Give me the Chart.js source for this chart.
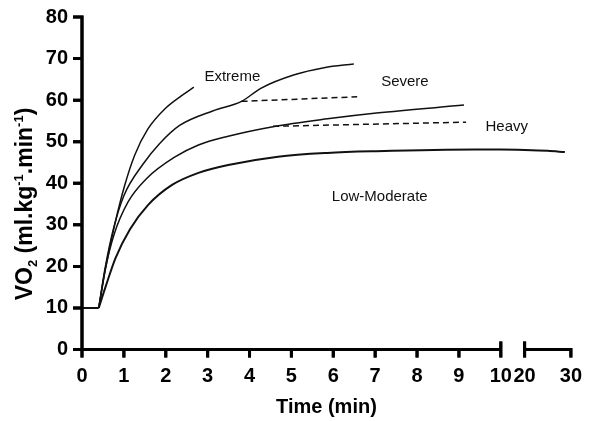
<!DOCTYPE html>
<html>
<head>
<meta charset="utf-8">
<script src="https://cdn.jsdelivr.net/npm/chart.js@4/dist/chart.umd.min.js"></script>
<style>
  html, body { margin: 0; padding: 0; background: #fff; }
  #wrap { width: 589px; height: 421px; position: relative; }
  #axisLayer { position: absolute; left: 0; top: 0; pointer-events: none; }
</style>
</head>
<body>
<div id="wrap"><canvas id="vo2Chart"></canvas><canvas id="axisLayer" width="589" height="421"></canvas></div>
<script>
// x axis is broken: 0-10 min, gap, then 20-30 min
const tickTimes = [0, 1, 2, 3, 4, 5, 6, 7, 8, 9, 10, 20, 30];
const tickLabels = ['0', '1', '2', '3', '4', '5', '6', '7', '8', '9', '10', '20', '30'];
const yTicks = [0, 10, 20, 30, 40, 50, 60, 70, 80];

// resting baseline
const restTime = [0, 0.4];
const restVO2 = [10, 10];

// Low-Moderate
const lowModTime = [0.4, 0.56, 0.8, 1.15, 1.58, 2.15, 2.78, 3.49, 4.68, 5.86, 7.03, 9.4, 10, 20, 25, 28.7];
const lowModVO2 = [10, 15.0, 22.0, 29.0, 34.8, 39.6, 42.5, 44.4, 46.4, 47.3, 47.7, 48.1, 48.1, 48.0, 47.8, 47.5];

// Heavy (solid = actual, dashed = expected steady state)
const heavyTime = [0.4, 0.55, 0.76, 1.1, 1.55, 2.2, 2.78, 3.49, 4.56, 5.86, 7.03, 9.12];
const heavyVO2 = [10, 19, 27.5, 35.5, 41.2, 46.2, 49.2, 51.3, 53.6, 55.5, 56.9, 58.8];
const heavyDashTime = [4.56, 9.17];
const heavyDashVO2 = [53.7, 54.7];

// Severe
const severeTime = [0.4, 0.55, 0.75, 1.0, 1.45, 1.85, 2.33, 3.12, 3.81, 4.28, 5.07, 5.78, 6.49];
const severeVO2 = [10, 19.5, 29, 37, 44.5, 49.5, 53.9, 57.4, 59.7, 62.9, 66.1, 67.8, 68.7];
const severeDashTime = [3.81, 6.57];
const severeDashVO2 = [59.7, 60.8];

// Extreme
const extremeTime = [0.4, 0.58, 0.78, 1.02, 1.26, 1.57, 1.97, 2.37, 2.67];
const extremeVO2 = [10, 20.5, 30, 39.5, 46.8, 53, 57.8, 61, 63.1];

// intensity domain labels
const domainNames = ['Extreme', 'Severe', 'Heavy', 'Low-Moderate'];
const domainTime = [3.59, 7.71, 12.5, 7.11];
const domainVO2 = [65.7, 64.5, 53.5, 36.8];

// map real minutes onto the broken axis
const GAP = 0.568;   // width of the break, in 0-10 units
const K = 0.1105;    // 20-30 segment is compressed
function xPos(t) {
  if (t <= 10) return t;
  if (t < 20) return 10 + (t - 10) / 10 * GAP;
  return 10 + GAP + (t - 20) * K;
}
function pts(ts, vs) {
  return ts.map((t, i) => ({ x: xPos(t), y: vs[i] }));
}

const FONT = '"Liberation Sans", Arial, sans-serif';

function line(data, width, dash) {
  return {
    data: data,
    borderColor: '#111',
    borderWidth: width,
    borderDash: dash || [],
    pointRadius: 0,
    fill: false,
    cubicInterpolationMode: 'monotone'
  };
}

// axis lines + tick marks (x axis has a break between 10 and 20)
function drawAxes(ctx, chart) {
  const x = chart.scales.x, y = chart.scales.y;
  const yb = chart.chartArea.bottom, xl = chart.chartArea.left;
  ctx.save();
  ctx.setLineDash([]);
  ctx.strokeStyle = '#000';
  ctx.lineWidth = 3;
  ctx.beginPath();
  ctx.moveTo(xl, y.getPixelForValue(80) - 1.5);
  ctx.lineTo(xl, yb + 1.5);
  yTicks.forEach(v => {
    const py = y.getPixelForValue(v);
    ctx.moveTo(xl - 9, py);
    ctx.lineTo(xl, py);
  });
  ctx.moveTo(x.getPixelForValue(xPos(0)) - 1.5, yb);
  ctx.lineTo(x.getPixelForValue(xPos(10)), yb);
  ctx.moveTo(x.getPixelForValue(xPos(20)), yb);
  ctx.lineTo(x.getPixelForValue(xPos(30)) + 1.5, yb);
  tickTimes.forEach(t => {
    const px = x.getPixelForValue(xPos(t));
    const up = (t === 10 || t === 20) ? 8 : 0;
    ctx.moveTo(px, yb - up);
    ctx.lineTo(px, yb + 8);
  });
  ctx.stroke();
  ctx.restore();
}

// domain labels and the y title with sub/superscripts
const decorPlugin = {
  id: 'decor',
  afterDraw(chart) {
    const ctx = chart.ctx;
    const x = chart.scales.x, y = chart.scales.y;

    drawAxes(ctx, chart);
    const layer = document.getElementById('axisLayer');
    const lctx = layer.getContext('2d');
    lctx.clearRect(0, 0, layer.width, layer.height);
    drawAxes(lctx, chart);

    ctx.save();
    ctx.fillStyle = '#111';
    ctx.font = '15px ' + FONT;
    ctx.textAlign = 'center';
    ctx.textBaseline = 'middle';
    domainNames.forEach((n, i) => {
      ctx.fillText(n, x.getPixelForValue(xPos(domainTime[i])), y.getPixelForValue(domainVO2[i]));
    });

    const parts = [
      ['VO', 0], ['2', 1], [' (ml.kg', 0], ['-1', -1], ['.min', 0], ['-1', -1], [')', 0]
    ];
    const big = 'bold 23px ' + FONT, small = 'bold 13px ' + FONT;
    let total = 0;
    parts.forEach(p => { ctx.font = p[1] ? small : big; total += ctx.measureText(p[0]).width; });
    ctx.translate(26, 204);
    ctx.rotate(-Math.PI / 2);
    ctx.textAlign = 'left';
    ctx.fillStyle = '#000';
    let cx = -total / 2;
    parts.forEach(p => {
      ctx.font = p[1] ? small : big;
      const dy = p[1] === 1 ? 7 : (p[1] === -1 ? -7 : 0);
      ctx.fillText(p[0], cx, dy);
      cx += ctx.measureText(p[0]).width;
    });
    ctx.restore();
  }
};

new Chart(document.getElementById('vo2Chart'), {
  type: 'line',
  data: {
    datasets: [
      line(pts(restTime, restVO2), 2),
      line(pts(lowModTime, lowModVO2), 2),
      line(pts(heavyTime, heavyVO2), 1.5),
      line(pts(heavyDashTime, heavyDashVO2), 1.5, [6, 4]),
      line(pts(severeTime, severeVO2), 1.5),
      line(pts(severeDashTime, severeDashVO2), 1.5, [6, 4]),
      line(pts(extremeTime, extremeVO2), 1.5)
    ]
  },
  plugins: [decorPlugin],
  options: {
    responsive: true,
    maintainAspectRatio: false,
    animation: false,
    layout: { padding: { left: 0, right: 13, top: 17, bottom: 0 } },
    plugins: {
      legend: { display: false },
      tooltip: { enabled: false }
    },
    scales: {
      x: {
        type: 'linear',
        min: 0,
        max: xPos(30),
        afterBuildTicks: s => { s.ticks = tickTimes.map(t => ({ value: xPos(t) })); },
        afterFit: s => { s.height = 71.5; },
        border: { display: false },
        grid: { drawOnChartArea: false, tickLength: 8, color: 'rgba(0,0,0,0)' },
        ticks: {
          autoSkip: false,
          maxRotation: 0,
          minRotation: 0,
          padding: 7,
          color: '#000',
          font: { family: FONT, size: 20, weight: 'bold' },
          callback: (v, i) => tickLabels[i]
        },
        title: {
          display: true,
          text: 'Time (min)',
          color: '#000',
          padding: { top: 0, bottom: 2 },
          font: { family: FONT, size: 20, weight: 'bold' }
        }
      },
      y: {
        min: 0,
        max: 80,
        afterFit: s => { s.width = 82; },
        border: { display: false },
        grid: { drawOnChartArea: false, tickLength: 9, color: 'rgba(0,0,0,0)' },
        ticks: {
          stepSize: 10,
          padding: 5,
          color: '#000',
          font: { family: FONT, size: 20, weight: 'bold' }
        }
      }
    }
  }
});
</script>
</body>
</html>
